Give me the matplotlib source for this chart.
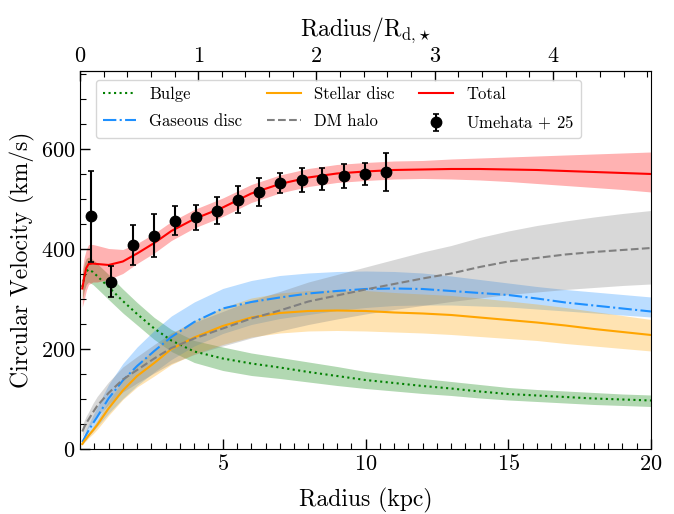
import numpy as np
import matplotlib
matplotlib.use('Agg')
import matplotlib.pyplot as plt

plt.rcParams['font.family'] = 'cmr10'
plt.rcParams['mathtext.fontset'] = 'cm'
plt.rcParams['axes.formatter.use_mathtext'] = True
plt.rcParams['axes.unicode_minus'] = False

# stellar disc scale length (kpc), for the top axis
R_D = 4.14

# model radius grid (kpc)
r_model = [0.08, 0.15, 0.22, 0.3, 0.45, 0.6, 1.0, 1.5, 2.0, 2.6, 3.2, 4.0, 5.0,
           6.0, 7.0, 8.0, 9.0, 10.0, 11.0, 12.0, 13.0, 14.0, 15.0, 16.0, 17.0,
           18.0, 19.0, 20.0]

bulge = [325, 345, 356, 360, 355, 347, 325, 297, 271, 242, 218, 196, 182,
         172, 164, 155, 147, 139, 133, 127, 122, 116, 111, 108, 105, 102, 100, 98]
bulge_lo = [298, 318, 330, 335, 330, 322, 300, 273, 249, 220, 196, 174, 158,
            148, 142, 135, 128, 122, 117, 112, 108, 103, 99, 96, 93, 90, 88, 86]
bulge_hi = [352, 372, 382, 385, 380, 372, 350, 321, 294, 264, 240, 218, 205,
            193, 184, 175, 166, 156, 149, 142, 136, 130, 124, 120, 117, 114, 111, 109]

gas = [15, 22, 30, 38, 52, 65, 102, 138, 167, 197, 225, 255, 282,
       295, 304, 312, 317, 321, 322, 321, 317, 313, 309, 302, 294, 288, 282, 276]
gas_lo = [10, 15, 20, 26, 36, 46, 72, 102, 128, 155, 180, 207, 232,
          250, 262, 270, 278, 284, 288, 289, 289, 287, 285, 281, 277, 273, 269, 265]
gas_hi = [20, 30, 40, 50, 68, 85, 130, 172, 205, 238, 267, 295, 322,
          338, 348, 353, 356, 357, 356, 353, 347, 340, 333, 326, 320, 315, 310, 305]

stellar = [11, 17, 22, 28, 38, 49, 82, 118, 147, 173, 201, 224, 247,
           264, 273, 277, 278, 277, 274, 272, 269, 264, 259, 254, 248, 241, 235, 229]
stellar_lo = [9, 14, 18, 23, 31, 40, 68, 100, 125, 147, 170, 191, 210,
              225, 233, 237, 238, 237, 235, 233, 230, 226, 222, 218, 212, 207, 202, 197]
stellar_hi = [13, 20, 26, 33, 45, 58, 97, 137, 170, 200, 232, 258, 284,
              303, 313, 318, 319, 318, 314, 311, 308, 303, 297, 291, 284, 276, 268, 260]

halo = [36, 45, 53, 60, 74, 87, 113, 140, 159, 182, 203, 222, 242,
        262, 278, 296, 308, 320, 331, 342, 352, 365, 376, 383, 390, 395, 399, 403]
halo_lo = [25, 32, 38, 44, 55, 66, 90, 115, 133, 153, 172, 190, 207,
           223, 237, 250, 261, 271, 280, 288, 296, 303, 310, 315, 320, 324, 328, 331]
halo_hi = [48, 58, 67, 75, 92, 106, 135, 165, 186, 210, 233, 254, 276,
           298, 316, 335, 350, 365, 380, 395, 408, 424, 437, 448, 457, 465, 472, 478]

total = [322, 345, 363, 371, 372, 371, 369, 376, 392, 413, 437, 461, 484,
         512, 531, 544, 552, 556, 559, 560, 561, 561, 560, 559, 557, 555, 553, 551]
total_lo = [285, 300, 318, 330, 335, 335, 340, 352, 372, 393, 418, 443, 466,
            494, 513, 526, 534, 538, 541, 542, 541, 539, 536, 532, 528, 524, 520, 515]
total_hi = [360, 385, 400, 410, 410, 408, 402, 400, 412, 432, 456, 480, 503,
            530, 549, 562, 570, 574, 577, 578, 581, 583, 585, 587, 589, 591, 593, 595]

# Umehata+25 observed rotation curve
r_obs = [0.37, 1.08, 1.84, 2.59, 3.32, 4.06, 4.80, 5.55, 6.27, 7.02, 7.76,
         8.48, 9.23, 9.97, 10.71]
v_obs = [466, 335, 409, 427, 457, 464, 477, 499, 515, 532, 539, 541, 547, 550, 555]
v_err = [91, 31, 40, 43, 29, 25, 27, 27, 28, 20, 24, 22, 24, 22, 38]

fig = plt.figure(figsize=(6.74, 5.14), dpi=100)
ax = fig.add_axes([0.1187, 0.1255, 0.8472, 0.7364])

ax.fill_between(r_model, bulge_lo, bulge_hi, color='green', alpha=0.3, lw=0)
ax.fill_between(r_model, gas_lo, gas_hi, color='dodgerblue', alpha=0.3, lw=0)
ax.fill_between(r_model, stellar_lo, stellar_hi, color='orange', alpha=0.3, lw=0)
ax.fill_between(r_model, halo_lo, halo_hi, color='grey', alpha=0.3, lw=0)
ax.fill_between(r_model, total_lo, total_hi, color='red', alpha=0.3, lw=0)

ax.plot(r_model, bulge, ':', color='green', lw=1.5, label='Bulge')
ax.plot(r_model, gas, '-.', color='dodgerblue', lw=1.5, label='Gaseous disc')
ax.plot(r_model, stellar, '-', color='orange', lw=1.5, label='Stellar disc')
ax.plot(r_model, halo, '--', color='grey', lw=1.5, label='DM halo')
ax.plot(r_model, total, '-', color='red', lw=1.5, label='Total')
ax.errorbar(r_obs, v_obs, yerr=v_err, fmt='o', color='black', ms=7.5,
            elinewidth=1.5, capsize=2, capthick=1.2, label=r'Umehata $+$ 25')

ax.set_xlim(0, 20)
ax.set_ylim(0, 757)
ax.set_xticks([5, 10, 15, 20])
ax.set_xticks(np.arange(0, 20.01, 0.5), minor=True)
ax.set_yticks([0, 200, 400, 600])
ax.set_yticks(np.arange(0, 751, 50), minor=True)
ax.tick_params(which='both', direction='in', labelsize=16)
ax.tick_params(which='major', length=7, width=1)
ax.tick_params(which='minor', length=4, width=0.8)
ax.set_xlabel('Radius (kpc)', fontsize=17, labelpad=10)
ax.set_ylabel('Circular Velocity (km/s)', fontsize=17, labelpad=4)

top = ax.secondary_xaxis('top', functions=(lambda r: r / R_D, lambda u: u * R_D))
top.set_xticks([0, 1, 2, 3, 4])
top.set_xticks(np.arange(0, 4.81, 0.2), minor=True)
top.tick_params(which='both', direction='in', labelsize=16)
top.tick_params(which='major', length=7, width=1)
top.tick_params(which='minor', length=4, width=0.8)
top.set_xlabel(r'Radius/R$_{\rm d{,}\star}$', fontsize=17, labelpad=8)

ax.legend(loc='upper left', bbox_to_anchor=(0.028, 0.976), borderaxespad=0,
          ncol=3, fontsize=12, labelspacing=0.7, columnspacing=1.5)

fig.savefig('out.png', dpi=100)
